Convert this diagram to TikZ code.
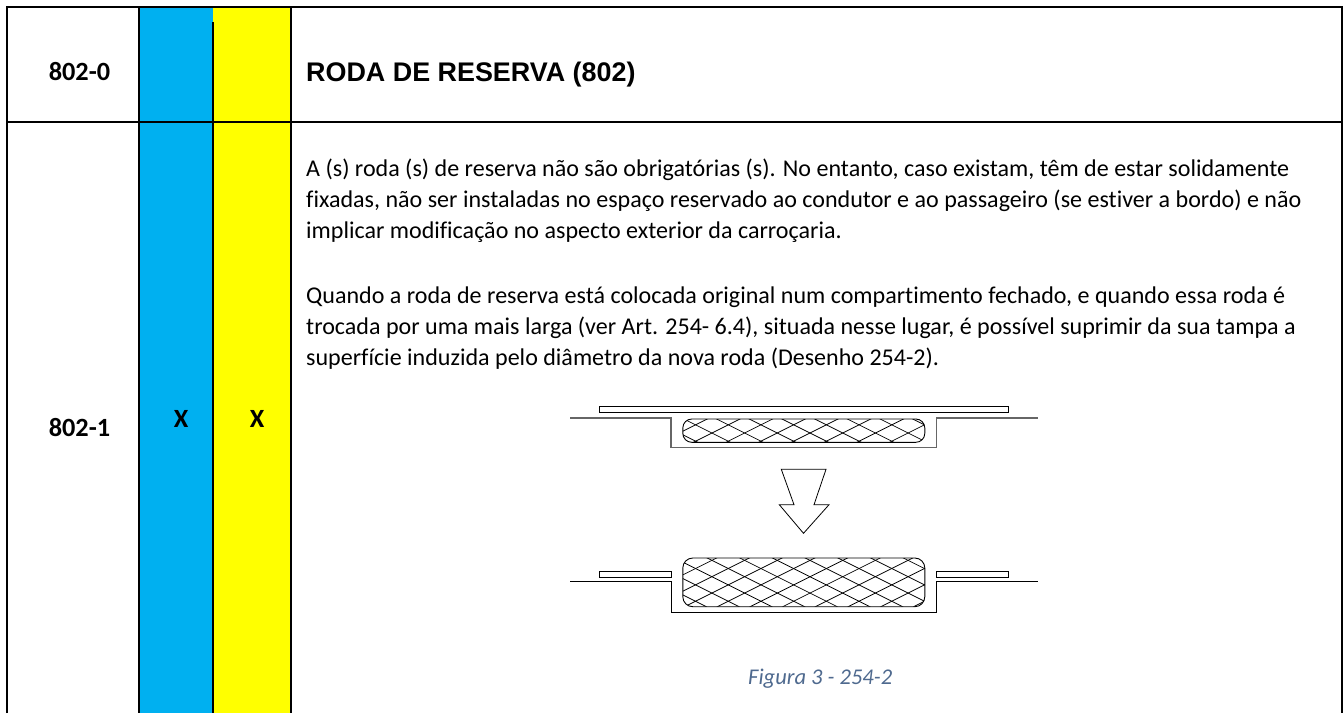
\documentclass[tikz,border=0pt]{standalone}
\usepackage{fontspec}
\setmainfont[Ligatures=NoCommon]{Carlito}
\newfontfamily\arialf{Liberation Sans}
\definecolor{capblue}{HTML}{4F6A8F}
\definecolor{cyanfill}{HTML}{00B0F0}
\definecolor{yellowfill}{HTML}{FFFF00}
\definecolor{drawgray}{HTML}{666666}
\tikzset{
  x=1pt,y=-1pt,
  rule/.style={line width=2pt,black},
  cell/.style={font=\fontsize{26.3}{30}\selectfont\bfseries,anchor=base,inner sep=0pt},
  bodytext/.style={font=\fontsize{24.05}{29}\selectfont,anchor=base west,inner sep=0pt},
  thin1/.style={line width=0.9pt,black},
  grayline/.style={line width=1.4pt,drawgray},
  hatch/.style={line width=0.75pt,black},
}
\newcommand{\lattice}[1]{%
  \foreach \k in {-12,...,12}{
    \draw[hatch] ({711.9+32.7*\k-66.8},{#1-33.4}) -- ({711.9+32.7*\k+66.8},{#1+33.4});
    \draw[hatch] ({711.9+32.7*\k-66.8},{#1+33.4}) -- ({711.9+32.7*\k+66.8},{#1-33.4});
  }
}
\begin{document}
\begin{tikzpicture}
\useasboundingbox (0,0) rectangle (1343,713);
\fill[white] (0,0) rectangle (1343,713);
% colour columns
\fill[cyanfill] (139,7) rectangle (213,713);
\fill[yellowfill] (213,7) rectangle (291,713);
% rules
\draw[rule] (7,713) -- (7,7) -- (1341.7,7) -- (1341.7,713);
\draw[rule] (7,121.7) -- (1341.7,121.7);
\draw[rule] (139.2,7) -- (139.2,713);
\draw[rule] (213,22) -- (213,713);
\draw[rule] (290.8,7) -- (290.8,713);
% cells
\node[cell] (a0) at (79.5,80) {802-0};
\node[cell] (a1) at (79.5,436.5) {802-1};
\node[cell] (bx) at (181,427) {X};
\node[cell] (yx) at (257,427) {X};
\node[font=\fontsize{26.9}{30}\selectfont\bfseries\arialf,anchor=base west,inner sep=0pt] (title) at (306,81) {RODA DE RESERVA (802)};
% body
\node[bodytext] (l1) at (306,176.7) {A (s) roda (s) de reserva não são obrigatórias (s). No entanto, caso existam, têm de estar solidamente};
\node[bodytext] (l2) at (306,207.6) {fixadas, não ser instaladas no espaço reservado ao condutor e ao passageiro (se estiver a bordo) e não};
\node[bodytext] (l3) at (306,238.5) {implicar modificação no aspecto exterior da carroçaria.};
\node[bodytext] (l4) at (306,303.3) {Quando a roda de reserva está colocada original num compartimento fechado, e quando essa roda é};
\node[bodytext] (l5) at (306,334.3) {trocada por uma mais larga (ver Art. 254- 6.4), situada nesse lugar, é possível suprimir da sua tampa a};
\node[bodytext] (l6) at (306,365.2) {superfície induzida pelo diâmetro da nova roda (Desenho 254-2).};
\node[font=\fontsize{22.5}{27}\selectfont\itshape,text=capblue,anchor=base west,inner sep=0pt] (cap) at (748,684) {Figura 3 - 254-2};
% top figure
\draw[thin1] (599.5,406.8) rectangle (1008.7,412.6);
\draw[grayline] (570,418) -- (671,418) -- (671,447.7) -- (936.7,447.7) -- (936.7,418) -- (1038.3,418);
\begin{scope}
\clip[rounded corners=9pt] (682.8,419) rectangle (924.8,442.3);
\lattice{433}
\end{scope}
\draw[thin1,rounded corners=9pt] (682.8,419) rectangle (924.8,442.3);
% arrow
\draw[line width=0.8pt,black] (781.3,469.3) -- (826,469.3) -- (814,504.7) -- (829,504.7) -- (803.5,533.3) -- (779.3,504.7) -- (794,504.7) -- cycle;
% bottom figure
\draw[thin1] (599.5,571) rectangle (671,577);
\draw[thin1] (936.7,571) rectangle (1008.7,577);
\draw[thin1] (570,581.8) -- (671,581.8) -- (671,612) -- (936.7,612) -- (936.7,581.8) -- (1038.3,581.8);
\begin{scope}
\clip[rounded corners=10pt] (682.8,558) rectangle (924.8,606.7);
\lattice{576.7}
\end{scope}
\draw[thin1,rounded corners=10pt] (682.8,558) rectangle (924.8,606.7);
\end{tikzpicture}
\end{document}
